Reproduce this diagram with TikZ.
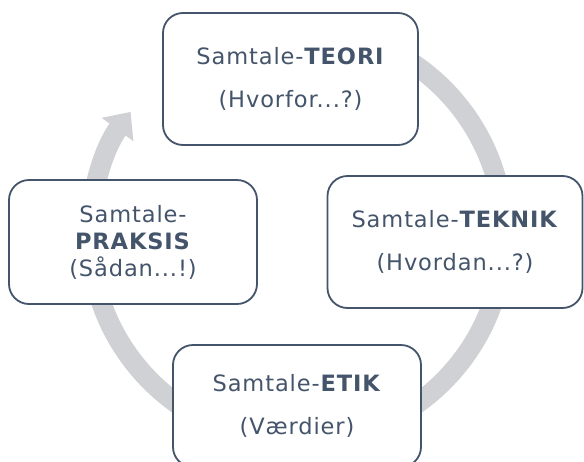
\documentclass[tikz,border=0pt]{standalone}
\usepackage{fontspec}
\setmainfont{DejaVu Sans}[LetterSpace=4]
\usetikzlibrary{arrows.meta}
\definecolor{slate}{HTML}{44546A}
\definecolor{ringgrey}{RGB}{208,209,213}

\begin{document}
\begin{tikzpicture}[x=1pt, y=-1pt,
    box/.style={draw=slate, line width=1.8pt, fill=white, rounded corners=20pt,
      inner sep=0pt, align=center, text=slate, font=\fontsize{22.5}{27}\selectfont}]
    \useasboundingbox (0,0) rectangle (584,461);
    % grey cycle behind the boxes
    \coordinate (hub) at (297,235);
    \draw [ringgrey, line width=20pt, -{Triangle[width=38pt,length=22pt]}]
      (hub) ++(-90:207) arc (-90:216.5:207);
    \node [box, minimum width=255, minimum height=132] (teori) at (290.5,79)
      {Samtale-\textbf{TEORI}\\[16pt](Hvorfor...?)};
    \node [box, minimum width=255, minimum height=132] (teknik) at (455,242)
      {Samtale-\textbf{TEKNIK}\\[16pt](Hvordan...?)};
    \node [box, minimum width=248, minimum height=122] (etik) at (297,406)
      {Samtale-\textbf{ETIK}\\[16pt](Værdier)};
    \node [box, minimum width=248, minimum height=124] (praksis) at (133,242)
      {Samtale-\\\textbf{PRAKSIS}\\(Sådan...!)};
\end{tikzpicture}
\end{document}
